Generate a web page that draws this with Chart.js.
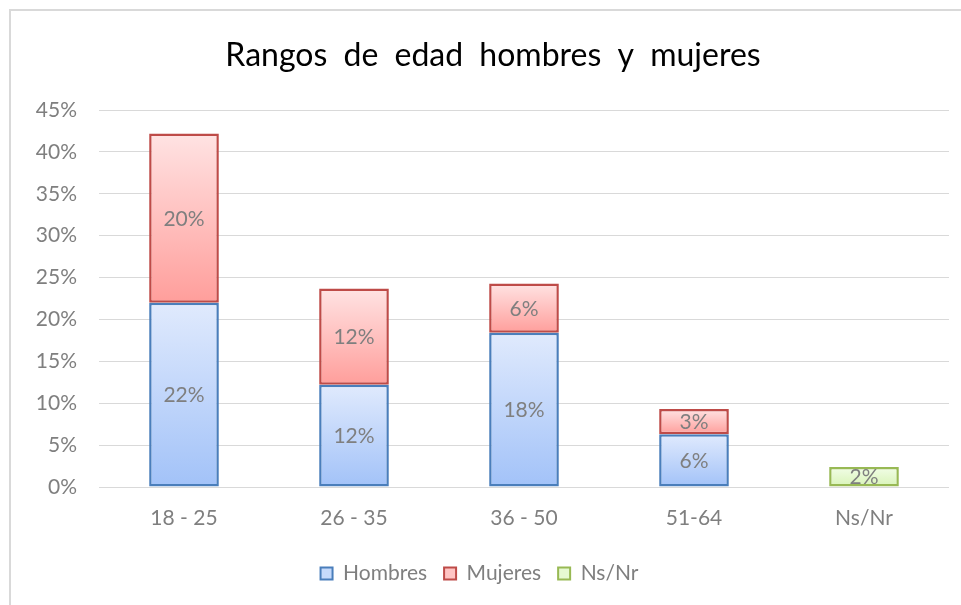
<!DOCTYPE html>
<html>
<head>
<meta charset="utf-8">
<script src="https://cdn.jsdelivr.net/npm/chart.js@4.4.1/dist/chart.umd.min.js"></script>
<style>
    html, body { margin: 0; padding: 0; background: #fff; overflow: hidden; }
    .frame {
        position: absolute; left: 9px; top: 9px; width: 1000px; height: 700px;
        border-top: 2px solid #d9d9d9; border-left: 2px solid #d9d9d9;
    }
    #wrap { position: absolute; left: 0; top: 0; width: 961px; height: 605px; }
</style>
</head>
<body>
<div class="frame"></div>
<div id="wrap"><canvas id="edadChart" width="961" height="605"></canvas></div>
<script>
// Datos (porcentajes)
const categories = ['18 - 25', '26 - 35', '36 - 50', '51-64', 'Ns/Nr'];
const hombres = [22.0, 12.2, 18.4, 6.3, null];
const mujeres = [20.2, 11.5, 5.9, 3.0, null];
const nsnr = [null, null, null, null, 2.4];
const yTicks = [0, 5, 10, 15, 20, 25, 30, 35, 40, 45];
const titleText = 'Rangos de edad hombres y mujeres';

const series = [hombres, mujeres, nsnr];
const names = ['Hombres', 'Mujeres', 'Ns/Nr'];
const gradStops = [
    ['#e0eafd', '#a2c2f8'], // Hombres
    ['#ffe3e3', '#ff9e9b'], // Mujeres
    ['#f2fde8', '#d8f3b6']  // Ns/Nr
];
const borders = ['#4a7ebb', '#be4b48', '#98b954'];
const legendFill = ['#c6dafb', '#ffc4c3', '#e6f9d2'];
const textGray = '#7f7f7f';

function barGradient(dsIndex) {
    return function(ctx) {
        const chart = ctx.chart;
        if (ctx.type !== 'data' || !chart.chartArea) return legendFill[dsIndex];
        const i = ctx.dataIndex;
        let start = 0;
        for (let k = 0; k < dsIndex; k++) start += series[k][i] || 0;
        const end = start + (series[dsIndex][i] || 0);
        const y = chart.scales.y;
        const g = chart.ctx.createLinearGradient(0, y.getPixelForValue(end), 0, y.getPixelForValue(start));
        g.addColorStop(0, gradStops[dsIndex][0]);
        g.addColorStop(1, gradStops[dsIndex][1]);
        return g;
    };
}

// titulo (con espacio entre palabras) y etiquetas de valor
const extras = {
    id: 'extras',
    afterDatasetsDraw(chart) {
        const c = chart.ctx;
        c.save();
        c.font = '21px Lato';
        c.fillStyle = textGray;
        c.textAlign = 'center';
        c.textBaseline = 'middle';
        chart.data.datasets.forEach((ds, di) => {
            chart.getDatasetMeta(di).data.forEach((bar, i) => {
                const v = ds.data[i];
                if (v == null) return;
                c.fillText(Math.round(v) + '%', bar.x, (bar.y + bar.base) / 2 + 1);
            });
        });
        c.font = '32px Lato';
        c.fillStyle = '#000';
        c.wordSpacing = '8px';
        c.fillText(titleText, 493, 56);
        c.restore();
    }
};

new Chart(document.getElementById('edadChart'), {
    type: 'bar',
    data: {
        labels: categories,
        datasets: series.map((d, k) => ({
            label: names[k],
            data: d,
            backgroundColor: barGradient(k),
            borderColor: borders[k],
            borderWidth: 2.5,
            borderSkipped: false,
            categoryPercentage: 0.82,
            barPercentage: 0.5
        }))
    },
    options: {
        responsive: false,
        animation: false,
        layout: { padding: { left: 10, right: 12, top: 110, bottom: 11 } },
        plugins: {
            tooltip: { enabled: false },
            title: { display: false },
            legend: {
                position: 'bottom',
                labels: {
                    color: textGray,
                    font: { family: 'Lato', size: 21 },
                    boxWidth: 12,
                    boxHeight: 12,
                    padding: 17,
                    generateLabels: () => names.map((n, k) => ({
                        text: n,
                        fillStyle: legendFill[k],
                        strokeStyle: borders[k],
                        lineWidth: 2,
                        fontColor: textGray,
                        datasetIndex: k
                    }))
                }
            }
        },
        scales: {
            x: {
                stacked: true,
                grid: { display: false, drawTicks: false },
                border: { display: false },
                ticks: { color: textGray, font: { family: 'Lato', size: 21 }, padding: 19 },
                afterFit: s => { s.height = 59; }
            },
            y: {
                stacked: true,
                min: 0,
                max: 45,
                afterBuildTicks: s => { s.ticks = yTicks.map(v => ({ value: v })); },
                grid: { color: '#d9d9d9', drawTicks: false },
                border: { display: false },
                ticks: {
                    color: textGray,
                    font: { family: 'Lato', size: 21 },
                    padding: 22,
                    callback: v => v + '%'
                },
                afterFit: s => { s.width = 89; }
            }
        }
    },
    plugins: [extras]
});
</script>
</body>
</html>
